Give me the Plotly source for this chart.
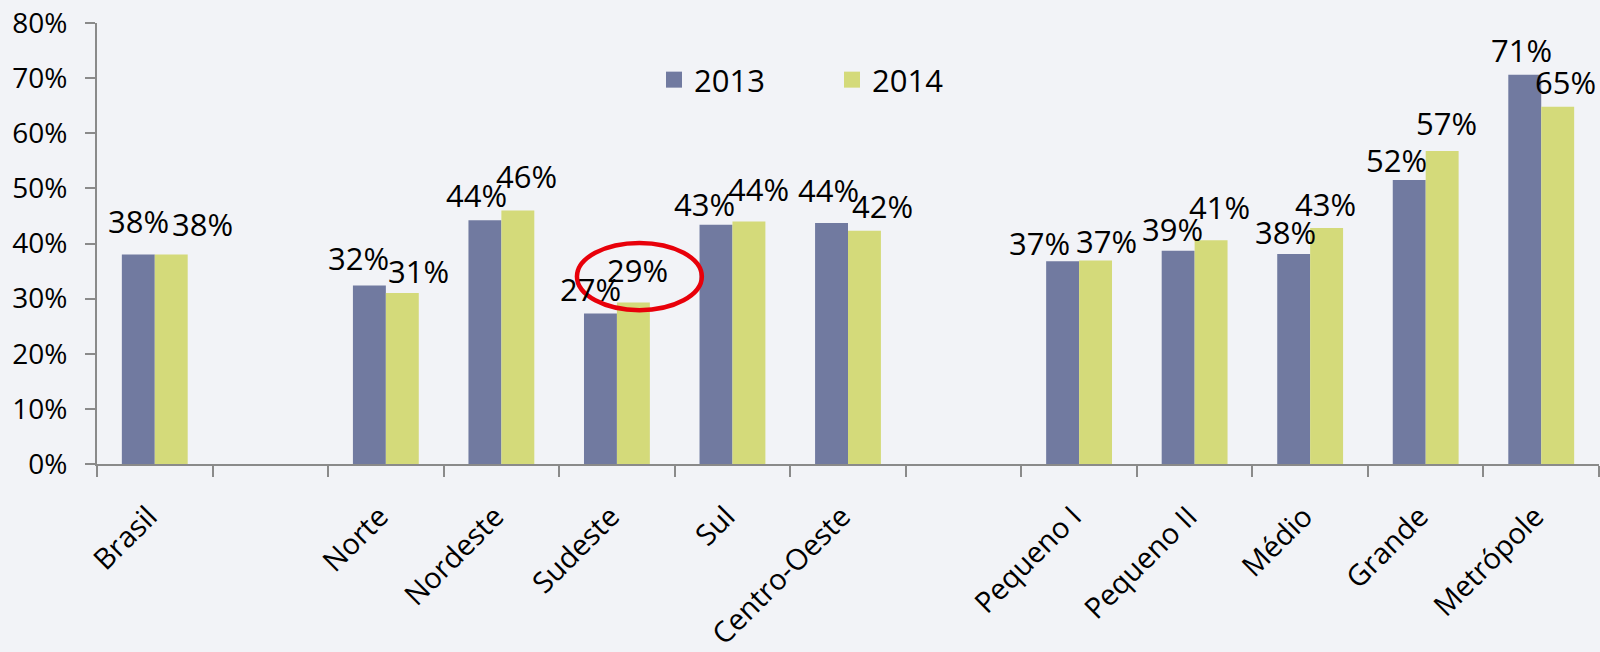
import plotly.graph_objects as go

# ---- data ----
categories = ["Brasil", " ", "Norte", "Nordeste", "Sudeste", "Sul", "Centro-Oeste",
              "  ", "Pequeno I", "Pequeno II", "Médio", "Grande", "Metrópole"]
values_2013 = [0.380, None, 0.324, 0.442, 0.273, 0.434, 0.437, None, 0.368, 0.387, 0.381, 0.515, 0.706]
values_2014 = [0.380, None, 0.310, 0.460, 0.293, 0.440, 0.423, None, 0.369, 0.406, 0.428, 0.568, 0.648]
series_names = ["2013", "2014"]
y_ticks = [0, 0.1, 0.2, 0.3, 0.4, 0.5, 0.6, 0.7, 0.8]

# ---- label nudges (px): (dx, gap above bar) per category, per series ----
nudge_2013 = [(0, 22), None, (-11, 15), (-8, 13), (-10, 13), (-11, 9), (-3, 21), None,
              (-23, 6), (-6, 10), (-8, 10), (-13, 8), (-3, 13)]
nudge_2014 = [(31, 19), None, (16, 10), (9, 22), (4, 20), (10, 20), (18, 13), None,
              (11, 8), (8, 21), (-1, 12), (4, 16), (8, 13)]

# ---- style ----
W, H = 1600, 652
ML, MR, MT, MB = 97, 1, 23, 188
C13 = "#717aa0"
C14 = "#d4da7a"
BG = "#f2f3f7"
AXIS = "#8a8a8a"
FONT = "Open Sans"
BARGAP = 0.43

fig = go.Figure()
for name, vals, col in ((series_names[0], values_2013, C13), (series_names[1], values_2014, C14)):
    fig.add_trace(go.Bar(x=categories, y=vals, name=name, legendgroup=name, showlegend=False,
                         marker=dict(color=col, line=dict(width=0))))
# legend-only entries (larger square swatches)
for name, col in ((series_names[0], C13), (series_names[1], C14)):
    fig.add_trace(go.Scatter(x=[None], y=[None], mode="markers", name=name, legendgroup=name,
                             marker=dict(symbol="square", size=21, color=col,
                                         line=dict(width=0)),
                             hoverinfo="skip"))

slot_px = (W - ML - MR) / len(categories)
half_bar = (1 - BARGAP) * slot_px / 4
descent = 10

annotations = []
for vals, nudges, sign in ((values_2013, nudge_2013, -1), (values_2014, nudge_2014, 1)):
    for cat, v, nd in zip(categories, vals, nudges):
        if v is None:
            continue
        dx, gap = nd
        annotations.append(dict(
            x=cat, y=v, xref="x", yref="y",
            text=f"{round(v * 100)}%", showarrow=False,
            xanchor="center", yanchor="bottom",
            xshift=sign * half_bar + dx, yshift=gap - descent,
            borderpad=0,
            font=dict(family=FONT, size=31, color="#000000"),
        ))

# red ellipse around Sudeste 2014 label
sud = categories.index("Sudeste")
shapes = [dict(type="circle", xref="x", yref="y",
               x0=sud - 0.346, x1=sud + 0.735,
               y0=values_2014[sud] - 0.014, y1=values_2014[sud] + 0.108,
               line=dict(color="#e8000a", width=4.5), fillcolor="rgba(0,0,0,0)",
               layer="above")]

fig.update_layout(
    width=W, height=H,
    margin=dict(l=ML, r=MR, t=MT, b=MB, autoexpand=False),
    paper_bgcolor=BG, plot_bgcolor=BG,
    barmode="group", bargap=BARGAP, bargroupgap=0,
    font=dict(family=FONT, size=28, color="#000000"),
    showlegend=True,
    legend=dict(orientation="h", xref="container", yref="container",
                x=654 / W, y=1 - 53 / H, xanchor="left", yanchor="top",
                bgcolor="rgba(0,0,0,0)", entrywidth=133, itemsizing="trace",
                font=dict(family=FONT, size=31, color="#000000")),
    annotations=annotations,
    shapes=shapes,
)
fig.update_xaxes(
    type="category", categoryorder="array", categoryarray=categories,
    range=[-0.5, len(categories) - 0.5],
    showline=True, linecolor=AXIS, linewidth=2,
    ticks="outside", tickson="boundaries", ticklen=11, tickcolor=AXIS, tickwidth=2,
    tickangle=-45, ticklabelstandoff=22, ticklabelshift=-6,
    tickfont=dict(family=FONT, size=29, color="#000000"),
    showgrid=False, zeroline=False, automargin=False,
)
fig.update_yaxes(
    range=[0, 0.8], tickvals=y_ticks, tickformat=".0%",
    showline=True, linecolor=AXIS, linewidth=2,
    ticks="outside", ticklen=10, tickcolor=AXIS, tickwidth=2,
    ticklabelstandoff=12,
    tickfont=dict(family=FONT, size=28, color="#000000"),
    showgrid=False, zeroline=False, automargin=False,
)

post = ("document.body.style.margin='0';"
        "document.body.style.overflow='hidden';"
        "document.body.style.background='#f2f3f7';")
fig.write_html("out.html", post_script=post, config={"displayModeBar": False})
